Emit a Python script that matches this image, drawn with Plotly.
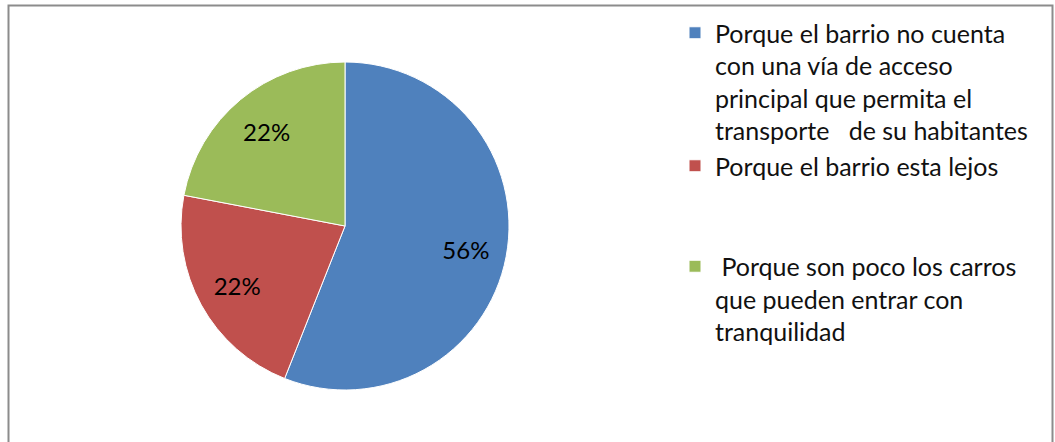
import plotly.graph_objects as go

categories = [
    "Porque el barrio no cuenta<br>con una vía de acceso<br>principal que permita el<br>transporte   de su habitantes",
    "Porque el barrio esta lejos<br> <br> ",
    " Porque son poco los carros<br>que pueden entrar con<br>tranquilidad",
]
values = [56, 22, 22]
colors = ["#4F81BD", "#C0504D", "#9BBB59"]

W, H = 1055, 442
cx, cy, r = 345, 226, 164
dom = dict(x=[(cx - r) / W, (cx + r) / W], y=[(H - cy - r) / H, (H - cy + r) / H])
FONT = "Lato, Open Sans, sans-serif"

fig = go.Figure()
# Colored pie (legend source)
fig.add_trace(go.Pie(
    labels=categories,
    values=values,
    sort=False,
    direction="clockwise",
    rotation=0,
    marker=dict(colors=colors, line=dict(color="white", width=1)),
    textinfo="none",
    domain=dom,
    hoverinfo="label+percent",
))
# Transparent ring carrying the percentage labels (pushes them outward)
fig.add_trace(go.Pie(
    labels=categories,
    values=values,
    sort=False,
    direction="clockwise",
    rotation=0,
    hole=0.5,
    marker=dict(colors=["rgba(0,0,0,0)"] * 3, line=dict(width=0)),
    textinfo="percent",
    textposition="inside",
    insidetextorientation="horizontal",
    textfont=dict(family=FONT, size=24, color="black"),
    domain=dom,
    showlegend=False,
    hoverinfo="skip",
))

fig.update_layout(
    width=W, height=H,
    margin=dict(l=0, r=0, t=0, b=0),
    paper_bgcolor="white",
    plot_bgcolor="white",
    showlegend=True,
    legend=dict(
        x=675 / W, y=1 - 10 / H, xanchor="left", yanchor="top",
        valign="top",
        font=dict(family=FONT, size=25, color="#111111"),
        itemwidth=30,
        bgcolor="rgba(0,0,0,0)",
    ),
    shapes=[dict(
        type="rect", xref="paper", yref="paper",
        x0=8.5 / W, x1=1052.5 / W, y0=-0.1, y1=1 - 5.5 / H,
        line=dict(color="#8C8C8C", width=2),
    )],
)

fig.write_html("out.html", config={"displayModeBar": False},
               post_script="document.body.style.margin='0';")
